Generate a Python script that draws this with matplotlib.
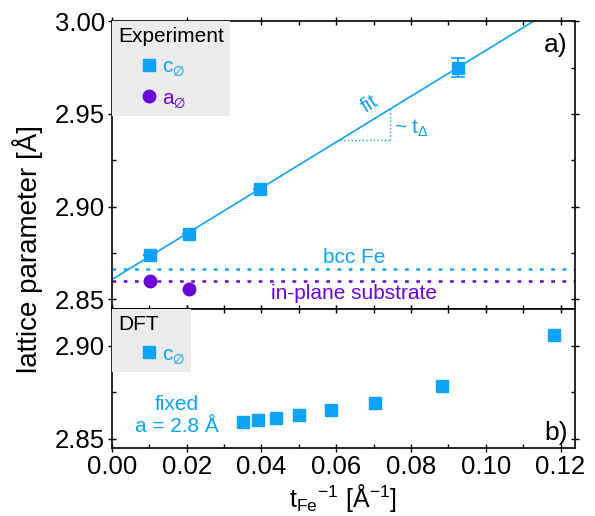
import numpy as np
import matplotlib.pyplot as plt
from matplotlib.gridspec import GridSpec
from matplotlib.ticker import MultipleLocator

plt.rcParams['font.family'] = ['Liberation Sans', 'DejaVu Sans']
plt.rcParams['mathtext.fontset'] = 'custom'
plt.rcParams['mathtext.rm'] = 'Liberation Sans'
plt.rcParams['mathtext.it'] = 'Liberation Sans'

BLUE = '#0fa3f5'
PURPLE = '#6a06d8'

# experiment: inverse Fe thickness vs lattice parameters
exp_x = [0.0103, 0.0206, 0.0396, 0.0925]
exp_c = [2.874, 2.8855, 2.9097, 2.975]
exp_c_err = [0.0, 0.0, 0.0, 0.005]
exp_a_x = [0.0103, 0.0206]
exp_a = [2.860, 2.8554]

bcc_fe = 2.8665
substrate = 2.860

# DFT, in-plane fixed to 2.8 A
dft_x = [0.0351, 0.0390, 0.0439, 0.0501, 0.0586, 0.0704, 0.0882, 0.1182]
dft_c = [2.8588, 2.8603, 2.8612, 2.8626, 2.8655, 2.8690, 2.8783, 2.9058]

fig = plt.figure(figsize=(5.95, 5.16), dpi=100)
gs = GridSpec(2, 1, height_ratios=[0.155, 0.075], hspace=0,
              left=0.188, right=0.966, top=0.959, bottom=0.132)
ax1 = fig.add_subplot(gs[0])
ax2 = fig.add_subplot(gs[1], sharex=ax1)

# linear fit of c vs 1/t
slope, icpt = np.polyfit(exp_x, exp_c, 1)
xf = np.array([0.0, 0.13])
ax1.plot(xf, icpt + slope * xf, color=BLUE, lw=1.2, zorder=2)

ax1.axhline(bcc_fe, color=BLUE, ls=(0, (1.5, 3)), lw=1.8)
ax1.axhline(substrate, color=PURPLE, ls=(0, (1.5, 3)), lw=1.8)

ax1.errorbar(exp_x, exp_c, yerr=exp_c_err, fmt='none', ecolor=BLUE,
             capsize=5, elinewidth=1.2, capthick=1.2, zorder=3)
hc, = ax1.plot(exp_x, exp_c, 's', color=BLUE, ms=9, label=r'c$_\varnothing$', zorder=3)
ha_, = ax1.plot(exp_a_x, exp_a, 'o', color=PURPLE, ms=9, label=r'a$_\varnothing$', zorder=3)

# slope triangle
x0, x1 = 0.061, 0.0745
y0 = icpt + slope * x0
y1 = icpt + slope * x1
ax1.plot([x0, x1], [y0, y0], color=BLUE, ls=':', lw=1)
ax1.plot([x1, x1], [y0, y1], color=BLUE, ls=':', lw=1)
ax1.text(0.0702, icpt + slope * 0.0702 + 0.0035, 'fit', color=BLUE, fontsize=15,
         rotation=32, ha='center', va='bottom', rotation_mode='anchor')
ax1.text(0.0755, (y0 + y1) / 2 - 0.002, r'~ t$_\Delta$', color=BLUE, fontsize=15,
         ha='left', va='center')

ax1.text(0.0648, bcc_fe + 0.0012, 'bcc Fe', color=BLUE, fontsize=15, ha='center', va='bottom')
ax1.text(0.0648, substrate - 0.0019, 'in-plane substrate', color=PURPLE, fontsize=15,
         ha='center', va='top')
ax1.text(0.985, 0.958, 'a)', transform=ax1.transAxes, fontsize=19, ha='right', va='top')

ax1.set_ylim(2.845, 3.00)
ax1.yaxis.set_major_locator(MultipleLocator(0.05))
ax1.yaxis.set_minor_locator(MultipleLocator(0.025))
ax1.yaxis.set_major_formatter('{x:.2f}')

leg_kw = dict(loc='upper left', borderaxespad=0, fontsize=15, title_fontsize=15,
              facecolor='#ebebeb', edgecolor='none', framealpha=1, fancybox=False,
              handlelength=3.0, handletextpad=-0.9, borderpad=0.3, alignment='left')
leg1 = ax1.legend(handles=[hc, ha_], title='Experiment', labelspacing=0.5, **leg_kw)
for txt, col in zip(leg1.get_texts(), [BLUE, PURPLE]):
    txt.set_color(col)

# DFT panel
hd, = ax2.plot(dft_x, dft_c, 's', color=BLUE, ms=9, label=r'c$_\varnothing$')
ax2.text(0.0174, 2.8625, 'fixed\na = 2.8 Å', color=BLUE, fontsize=15, ha='center',
         va='center', linespacing=1.15)
ax2.text(0.985, 0.058, 'b)', transform=ax2.transAxes, fontsize=19, ha='right', va='baseline')
ax2.set_ylim(2.845, 2.92)
ax2.yaxis.set_major_locator(MultipleLocator(0.05))
ax2.yaxis.set_minor_locator(MultipleLocator(0.025))
ax2.yaxis.set_major_formatter('{x:.2f}')

leg2 = ax2.legend(handles=[hd], title='DFT', **leg_kw)
for txt in leg2.get_texts():
    txt.set_color(BLUE)

ax2.set_xlim(0, 0.1238)
ax2.xaxis.set_major_locator(MultipleLocator(0.02))
ax2.xaxis.set_minor_locator(MultipleLocator(0.01))
ax2.xaxis.set_major_formatter('{x:.2f}')
ax2.set_xlabel(r't$_{\rm Fe}$$^{-1}$ [Å$^{-1}$]', fontsize=18, labelpad=2)

for ax in (ax1, ax2):
    ax.tick_params(which='major', direction='inout', length=6, width=1, labelsize=18.5,
                   top=True, right=True, pad=2)
    ax.tick_params(which='minor', direction='in', length=3, width=1, top=True, right=True)
    for sp in ax.spines.values():
        sp.set_linewidth(1.2)
ax1.tick_params(labelbottom=False)

fig.text(0.047, 0.517, 'lattice parameter [Å]', rotation=90, fontsize=20,
         ha='center', va='center')

fig.savefig('out.png', dpi=100)
